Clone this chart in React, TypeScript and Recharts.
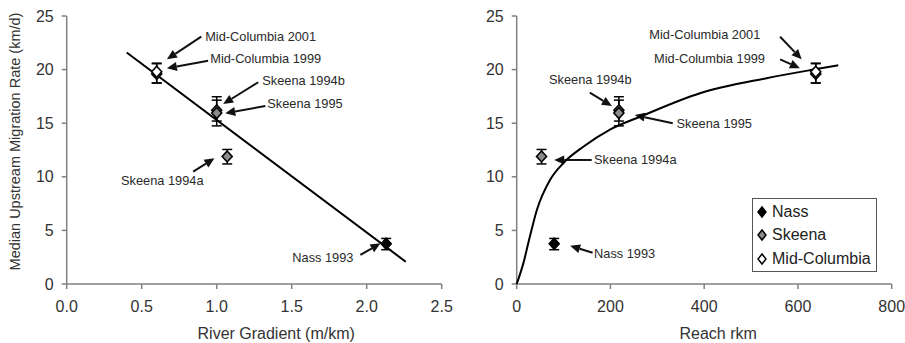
import React from "react";
import {
  ScatterChart, Scatter, XAxis, YAxis, ErrorBar, ReferenceLine, ReferenceDot, Legend,
} from "recharts";

const FONT = '"Liberation Sans", Arial, sans-serif';

// one entry per study
const sites = ["Nass 1993", "Skeena 1994a", "Skeena 1994b", "Skeena 1995", "Mid-Columbia 1999", "Mid-Columbia 2001"];
const river = ["Nass", "Skeena", "Skeena", "Skeena", "Mid-Columbia", "Mid-Columbia"];
const gradient = [2.13, 1.07, 1.0, 1.0, 0.6, 0.6];
const reach = [80, 53, 218, 218, 638, 638];
const rate = [3.75, 11.9, 16.2, 15.95, 19.6, 19.8];
const errLow = [0.55, 0.7, 1.0, 1.2, 0.85, 1.05];
const errHigh = [0.5, 0.65, 1.27, 1.2, 0.95, 0.8];

// fitted curves
const gradientFitX = [0.4, 2.26];
const gradientFitY = [21.6, 2.08];
const reachFitX = [0, 14, 28, 43, 71, 100, 142, 199, 263, 391, 533, 633, 686];
const reachFitY = [0, 1.9, 4.4, 6.9, 9.7, 11.3, 12.8, 14.4, 15.6, 17.8, 19.2, 20.0, 20.4];

const gradientTicks = [0, 0.5, 1, 1.5, 2, 2.5];
const reachTicks = [0, 200, 400, 600, 800];
const rateTicks = [0, 5, 10, 15, 20, 25];

const riverNames = ["Nass", "Skeena", "Mid-Columbia"];
const riverFill: Record<string, string> = { Nass: "#000", Skeena: "#8c8c8c", "Mid-Columbia": "#fff" };

// annotation text anchor + arrow (tail -> head), in data units
const gradientNotes = [
  { text: "Mid-Columbia 2001", tx: 0.923, ty: 23.13, x1: 0.897, y1: 23.07, x2: 0.668, y2: 20.96 },
  { text: "Mid-Columbia 1999", tx: 0.957, ty: 20.99, x1: 0.943, y1: 20.83, x2: 0.668, y2: 20.12 },
  { text: "Skeena 1994b", tx: 1.304, ty: 18.94, x1: 1.277, y1: 18.82, x2: 1.043, y2: 16.79 },
  { text: "Skeena 1995", tx: 1.337, ty: 16.79, x1: 1.324, y1: 16.6, x2: 1.057, y2: 15.92 },
  { text: "Skeena 1994a", tx: 0.362, ty: 9.61, x1: 0.843, y1: 10.48, x2: 0.985, y2: 11.73 },
  { text: "Nass 1993", tx: 1.504, ty: 2.43, x1: 1.958, y1: 2.71, x2: 2.092, y2: 3.8 },
];
const reachNotes = [
  { text: "Mid-Columbia 2001", tx: 283, ty: 23.23, x1: 562, y1: 23.07, x2: 608, y2: 20.96 },
  { text: "Mid-Columbia 1999", tx: 293, ty: 21.08, x1: 562, y1: 20.96, x2: 604, y2: 20.12 },
  { text: "Skeena 1994b", tx: 69, ty: 19.03, x1: 156, y1: 17.85, x2: 203, y2: 16.6 },
  { text: "Skeena 1995", tx: 341, ty: 14.93, x1: 333, y1: 14.99, x2: 252, y2: 15.76 },
  { text: "Skeena 1994a", tx: 165, ty: 11.57, x1: 160, y1: 11.57, x2: 80, y2: 11.57 },
  { text: "Nass 1993", tx: 165, ty: 2.8, x1: 162, y1: 2.92, x2: 114, y2: 3.57 },
];

const pointsFor = (xs: number[], name: string) =>
  sites
    .map((s, i) => ({ site: s, river: river[i], x: xs[i], y: rate[i], err: [errLow[i], errHigh[i]] }))
    .filter((d) => d.river === name);

const fitFor = (xs: number[], ys: number[]) => xs.map((x, i) => ({ x, y: ys[i] }));

const diamond = (fill: string) => (p: any) => (
  <polygon
    points={`${p.cx},${p.cy - 5.5} ${p.cx + 5},${p.cy} ${p.cx},${p.cy + 5.5} ${p.cx - 5},${p.cy}`}
    fill={fill}
    stroke="#000"
    strokeWidth={1.6}
  />
);

const arrow = (p: any) => {
  const { x1, y1, x2, y2 } = p;
  const a = Math.atan2(y2 - y1, x2 - x1);
  const L = 10, H = 4.5;
  const bx = x2 - L * Math.cos(a), by = y2 - L * Math.sin(a);
  const pts = `${x2},${y2} ${bx - H * Math.sin(a)},${by + H * Math.cos(a)} ${bx + H * Math.sin(a)},${by - H * Math.cos(a)}`;
  return (
    <g>
      <line x1={x1} y1={y1} x2={bx} y2={by} stroke="#111" strokeWidth={2} />
      <polygon points={pts} fill="#111" />
    </g>
  );
};

const LegendBox = () => (
  <div style={{ border: "1.5px solid #555", background: "#fff", paddingTop: 1, fontFamily: FONT, fontSize: 16, color: "#222" }}>
    {riverNames.map((n) => (
      <div key={n} style={{ display: "flex", alignItems: "center", height: 23.5 }}>
        <svg width={19} height={14} style={{ flex: "none" }}>
          <polygon points="9,2 13,7 9,12 5,7" fill={riverFill[n]} stroke="#000" strokeWidth={1.5} />
        </svg>
        <span>{n}</span>
      </div>
    ))}
  </div>
);

interface PanelProps {
  xs: number[];
  xTicks: number[];
  xMax: number;
  xFmt: (v: number) => string;
  xLabel: string;
  xLabelShift: number;
  fit: { x: number; y: number }[];
  notes: typeof gradientNotes;
  width: number;
  yLabel?: string;
  legend?: boolean;
}

function Panel({ xs, xTicks, xMax, xFmt, xLabel, xLabelShift, fit, notes, width, yLabel, legend }: PanelProps) {
  const tickStyle = { fontSize: 16, fill: "#333", fontFamily: FONT };
  return (
    <ScatterChart width={width} height={343} margin={{ top: 16, right: width - 441.7, bottom: 29, left: 0 }}>
      <XAxis
        type="number"
        dataKey="x"
        domain={[0, xMax]}
        ticks={xTicks}
        tickFormatter={xFmt}
        height={30}
        stroke="#808080"
        strokeWidth={1.5}
        tickSize={5}
        tickMargin={12}
        tick={tickStyle}
        label={{
          content: (p: any) => (
            <text x={p.viewBox.x + p.viewBox.width / 2 + xLabelShift} y={p.viewBox.y + 49} dy="0.35em"
              textAnchor="middle" fontSize={16} fill="#333" fontFamily={FONT}>{xLabel}</text>
          ),
        }}
      />
      <YAxis
        type="number"
        dataKey="y"
        domain={[0, 25]}
        ticks={rateTicks}
        width={66.7}
        stroke="#808080"
        strokeWidth={1.5}
        tickSize={5}
        tickMargin={8}
        tick={tickStyle}
        label={yLabel ? {
          content: (p: any) => (
            <text x={p.viewBox.x + 15} y={p.viewBox.y + 125.5} dy="0.35em" textAnchor="middle"
              transform={`rotate(-90 ${p.viewBox.x + 15} ${p.viewBox.y + 125.5})`}
              fontSize={14.5} fill="#333" fontFamily={FONT}>{yLabel}</text>
          ),
        } : undefined}
      />
      <Scatter data={fit} line={{ stroke: "#000", strokeWidth: 2 }} lineJointType="monotoneX"
        shape={() => <g />} legendType="none" isAnimationActive={false} />
      {riverNames.map((n) => (
        <Scatter key={n} name={n} data={pointsFor(xs, n)} shape={diamond(riverFill[n])} isAnimationActive={false}>
          <ErrorBar dataKey="err" direction="y" width={5} stroke="#000" strokeWidth={1.5} isAnimationActive={false} />
        </Scatter>
      ))}
      {notes.map((a) => (
        <ReferenceLine key={"l" + a.text} segment={[{ x: a.x1, y: a.y1 }, { x: a.x2, y: a.y2 }]} shape={arrow} />
      ))}
      {notes.map((a) => (
        <ReferenceDot key={"t" + a.text} x={a.tx} y={a.ty} r={0}
          shape={(p: any) => (
            <text x={p.cx} y={p.cy} dy="0.35em" fontSize={12.8} fill="#2a2a2a" fontFamily={FONT}>{a.text}</text>
          )}
        />
      ))}
      {legend && (
        <Legend layout="vertical" align="center" verticalAlign="middle" content={<LegendBox />}
          wrapperStyle={{ left: 302, top: 198, width: 125 }} />
      )}
    </ScatterChart>
  );
}

export default function App() {
  return (
    <div style={{ position: "absolute", left: 0, top: 0, width: 905, height: 343, background: "#fff", fontFamily: FONT }}>
      <div style={{ position: "absolute", left: 0, top: 0 }}>
        <Panel xs={gradient} xTicks={gradientTicks} xMax={2.5} xFmt={(v) => v.toFixed(1)}
          xLabel="River Gradient (m/km)" xLabelShift={22} fit={fitFor(gradientFitX, gradientFitY)}
          notes={gradientNotes} width={460} yLabel="Median Upstream Migration Rate (km/d)" />
      </div>
      <div style={{ position: "absolute", left: 450, top: 0 }}>
        <Panel xs={reach} xTicks={reachTicks} xMax={800} xFmt={(v) => String(v)}
          xLabel="Reach rkm" xLabelShift={14} fit={fitFor(reachFitX, reachFitY)}
          notes={reachNotes} width={455} legend />
      </div>
    </div>
  );
}
